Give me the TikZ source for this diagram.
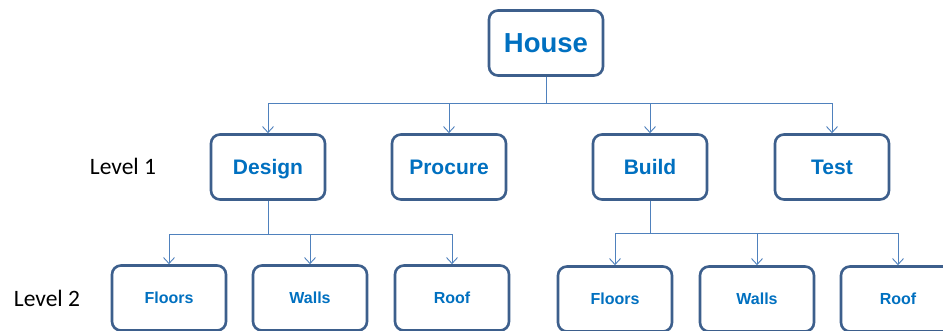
\documentclass[tikz,border=0pt]{standalone}
\usepackage{fontspec}
\setmainfont{Liberation Sans}
\newfontfamily\levelfont{Carlito}
\usetikzlibrary{arrows.meta}
\definecolor{boxline}{RGB}{61,95,140}
\definecolor{boxtext}{RGB}{0,112,192}
\definecolor{linkline}{RGB}{79,129,189}

\begin{document}
\begin{tikzpicture}[x=1pt,y=1pt,
    task/.style={shape=rectangle,rounded corners=9pt,draw=boxline,line width=2.6pt,fill=white,
        minimum width=114pt,minimum height=65pt,text=boxtext,text depth=0pt},
    top/.style={task,font=\fontsize{27.5}{31}\selectfont\bfseries,text height=19.7pt},
    mid/.style={task,font=\fontsize{21}{25}\selectfont\bfseries,text height=15.1pt},
    low/.style={task,font=\fontsize{16}{19}\selectfont\bfseries,text height=11.5pt},
    link/.style={draw=linkline,line width=0.9pt,-{Straight Barb[length=6pt,width=11pt]}},
    level/.style={font=\levelfont\fontsize{23.5}{26}\selectfont,text=black}]
                    \clip (0,0) rectangle (943,-331);
                    \fill[white] (0,0) rectangle (943,-331);

                    \node[top] (house) at (546,-43) {House};

                    \node[mid] (design) at (268,-167) {Design};
                    \node[mid] (procure) at (449,-167) {Procure};
                    \node[mid] (build) at (650,-167) {Build};
                    \node[mid] (test) at (832,-167) {Test};

                    \node[low] (floorsA) at (169,-298) {Floors};
                    \node[low] (wallsA) at (310,-298) {Walls};
                    \node[low] (roofA) at (452,-298) {Roof};
                    \node[low] (floorsB) at (615,-299) {Floors};
                    \node[low] (wallsB) at (757,-299) {Walls};
                    \node[low] (roofB) at (898,-299) {Roof};

                    \node[level] (lvlA) at (123,-166) {Level 1};
                    \node[level] (lvlB) at (47,-298) {Level 2};

                    \draw[link] (house.south) -- ++(0,-27) -| (design.north);
                    \draw[link] (house.south) -- ++(0,-27) -| (procure.north);
                    \draw[link] (house.south) -- ++(0,-27) -| (build.north);
                    \draw[link] (house.south) -- ++(0,-27) -| (test.north);

                    \draw[link] (design.south) -- ++(0,-34) -| (floorsA.north);
                    \draw[link] (design.south) -- ++(0,-34) -| (wallsA.north);
                    \draw[link] (design.south) -- ++(0,-34) -| (roofA.north);

                    \draw[link] (build.south) -- ++(0,-33) -| (floorsB.north);
                    \draw[link] (build.south) -- ++(0,-33) -| (wallsB.north);
                    \draw[link] (build.south) -- ++(0,-33) -| (roofB.north);
                \end{tikzpicture}
\end{document}
